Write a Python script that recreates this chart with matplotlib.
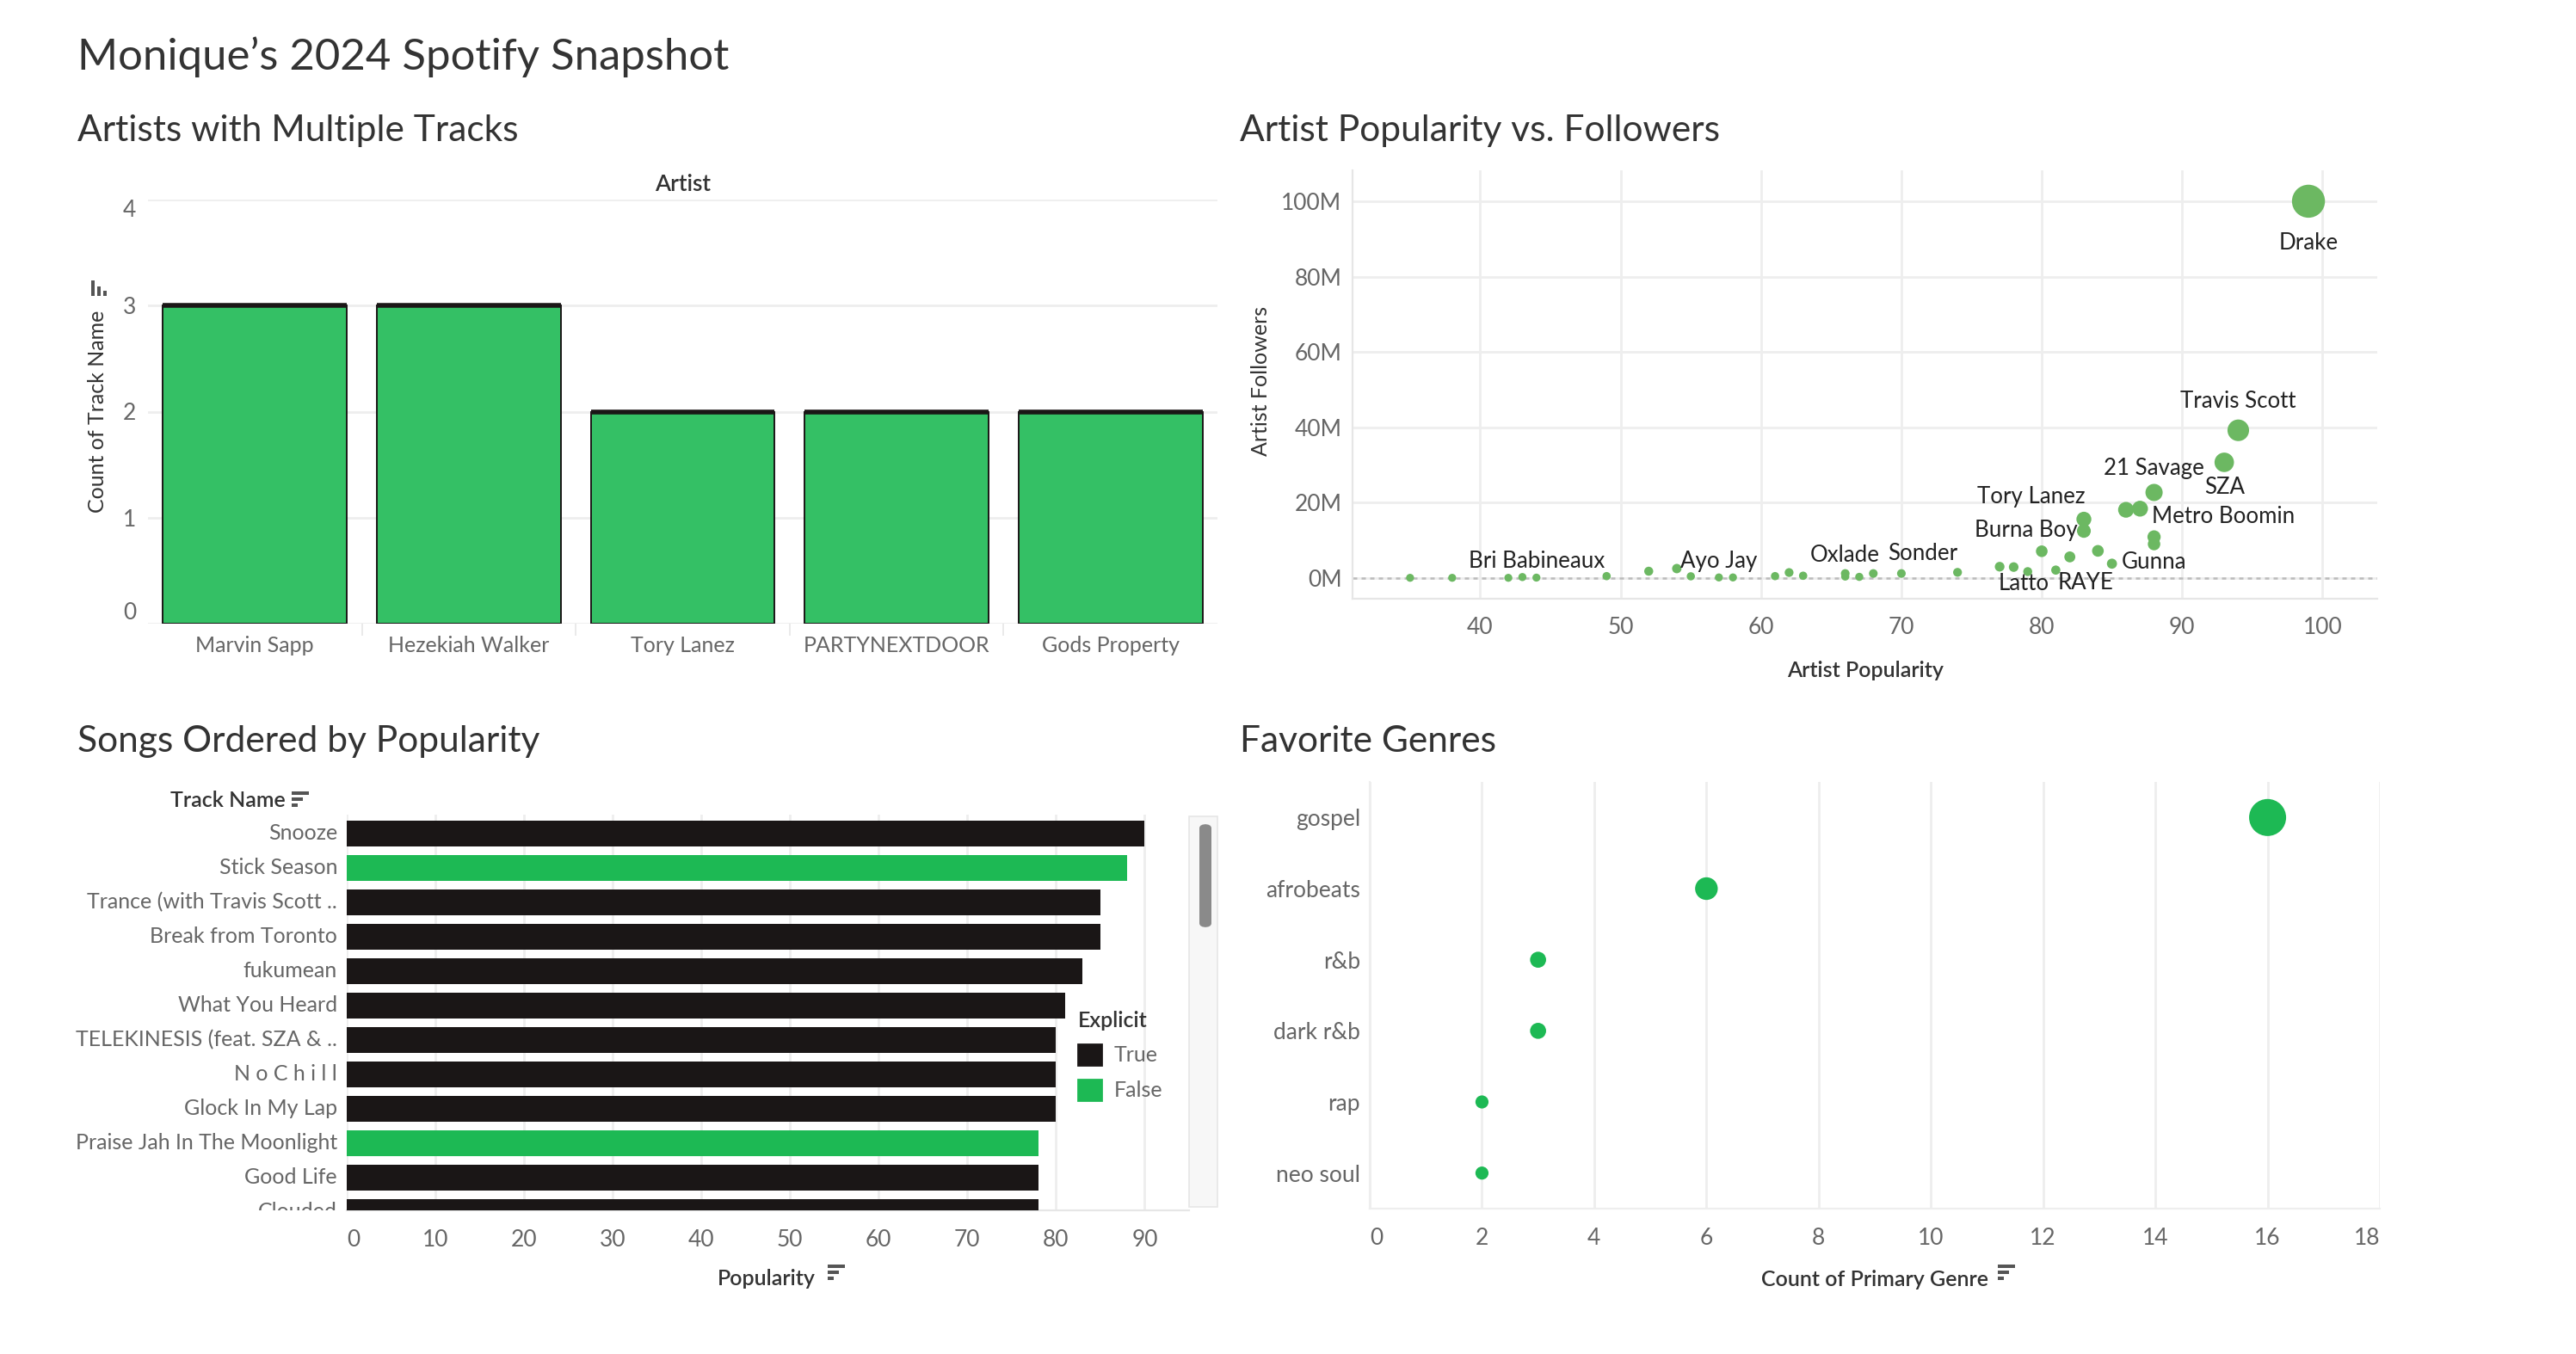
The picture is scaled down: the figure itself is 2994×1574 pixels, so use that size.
import matplotlib.pyplot as plt
import matplotlib.patches as mpatches
from matplotlib.ticker import FuncFormatter
from matplotlib.transforms import Bbox, TransformedBbox, blended_transform_factory

plt.rcParams['font.family'] = ['Lato', 'DejaVu Sans']

# artists with more than one track
multi_artists = ['Marvin Sapp', 'Hezekiah Walker', 'Tory Lanez', 'PARTYNEXTDOOR', 'Gods Property']
multi_counts = [3, 3, 2, 2, 2]

# artist popularity vs followers (followers in millions)
artist_pop = [35, 38, 42, 43, 44, 49, 52, 54, 55, 57, 58, 61, 62, 63, 66, 66, 67, 68, 70,
              74, 77, 78, 79, 80, 81, 82, 83, 83, 84, 85, 86, 87, 88, 88, 88, 93, 94, 99]
artist_followers = [0.05, 0.05, 0.05, 0.25, 0.1, 0.5, 1.8, 2.5, 0.45, 0.15, 0.15, 0.5, 1.45, 0.6,
                    1.2, 0.4, 0.3, 1.2, 1.2, 1.5, 3.0, 2.9, 1.7, 7.1, 2.1, 5.6, 15.6, 12.5, 7.2,
                    3.8, 18.1, 18.4, 22.7, 10.9, 9.0, 30.7, 39.2, 100.0]
artist_names = ['', '', '', '', 'Bri Babineaux', '', '', 'Ayo Jay', '', '', '', '', '', '',
                'Oxlade', '', '', '', 'Sonder', '', '', '', 'Latto', '', 'RAYE', '', 'Tory Lanez',
                'Burna Boy', '', 'Gunna', '', '', '21 Savage', 'Metro Boomin', '', 'SZA',
                'Travis Scott', 'Drake']

# songs ordered by popularity
tracks = ['Snooze', 'Stick Season', 'Trance (with Travis Scott ..', 'Break from Toronto',
          'fukumean', 'What You Heard', 'TELEKINESIS (feat. SZA & ..', 'N o C h i l l',
          'Glock In My Lap', 'Praise Jah In The Moonlight', 'Good Life', 'Clouded']
track_pop = [90, 88, 85, 85, 83, 81, 80, 80, 80, 78, 78, 78]
track_explicit = [True, False, True, True, True, True, True, True, True, False, True, True]

# favorite genres
genres = ['gospel', 'afrobeats', 'r&b', 'dark r&b', 'rap', 'neo soul']
genre_counts = [16, 6, 3, 3, 2, 2]

# label offsets (points) for the scatter annotations
label_offsets = {'Drake': (0, -17.5), 'Travis Scott': (0, 12), 'SZA': (0, -10.5),
                 '21 Savage': (0, 10), 'Metro Boomin': (29, 8.6), 'Gunna': (17.5, 0.6),
                 'Tory Lanez': (-22, 9.4), 'Burna Boy': (-24, 0.4), 'Latto': (-1.5, -5),
                 'RAYE': (12.5, -5.5), 'Sonder': (9, 8.4), 'Oxlade': (0, 7.6),
                 'Ayo Jay': (17.4, 3.1), 'Bri Babineaux': (0, 6.9)}

W, H = 2994, 1574
GREEN_BAR = '#34C065'
SPOTIFY_GREEN = '#1DB954'
SCATTER_GREEN = '#6CB862'
BLACK = '#1a1616'
TICK = '#666666'
GRID = '#eeeeee'
TXT = '#333333'


def fx(px):
    return px / W


def fy(py):
    return 1 - py / H


def sort_icon(fig, x, y, vertical=False):
    # little tableau sort glyph, x/y = top-left corner in pixels
    if vertical:
        for i, h in enumerate([18, 11, 6]):
            fig.add_artist(mpatches.Rectangle((fx(x + i * 7), fy(y + 18)), 4 / W, h / H,
                                              transform=fig.transFigure, color='#555555', lw=0))
    else:
        for i, w in enumerate([20, 13, 7]):
            fig.add_artist(mpatches.Rectangle((fx(x), fy(y + i * 7 + 4)), w / W, 4 / H,
                                              transform=fig.transFigure, color='#555555', lw=0))


fig = plt.figure(figsize=(W / 200, H / 200), dpi=200)

fig.text(fx(90), fy(66), 'Monique’s 2024 Spotify Snapshot', fontsize=18.3, color=TXT, va='center')
fig.text(fx(90), fy(152), 'Artists with Multiple Tracks', fontsize=15.3, color=TXT, va='center')
fig.text(fx(1441), fy(152), 'Artist Popularity vs. Followers', fontsize=15.3, color=TXT, va='center')
fig.text(fx(90), fy(862), 'Songs Ordered by Popularity', fontsize=15.3, color=TXT, va='center')
fig.text(fx(1441), fy(862), 'Favorite Genres', fontsize=15.3, color=TXT, va='center')

# ---- top left: bar chart
ax1 = fig.add_axes([fx(172), fy(725), (1415 - 172) / W, (725 - 232) / H])
xs = list(range(len(multi_artists)))
ax1.bar(xs, multi_counts, width=0.86, color=GREEN_BAR, edgecolor=BLACK, linewidth=0.7, zorder=3)
ax1.hlines(multi_counts, [x - 0.43 for x in xs], [x + 0.43 for x in xs], color=BLACK, lw=2, zorder=4)
ax1.set_xlim(-0.5, 4.5)
ax1.set_ylim(0, 4)
ax1.set_xticks(xs)
ax1.set_xticklabels(multi_artists)
ax1.set_xticks([0.5, 1.5, 2.5, 3.5], minor=True)
ax1.tick_params(axis='x', which='major', length=0, pad=5, labelsize=9, labelcolor=TICK)
ax1.tick_params(axis='x', which='minor', length=5, color='#e6e6e6')
ax1.set_yticks([0, 1, 2, 3, 4])
ax1.tick_params(axis='y', length=0, pad=5, labelsize=9.5, labelcolor=TICK)
ylabs = ax1.get_yticklabels()
ylabs[0].set_va('bottom')
ylabs[-1].set_va('top')
ax1.grid(axis='y', color=GRID, lw=1)
ax1.set_axisbelow(True)
for s in ax1.spines.values():
    s.set_visible(False)
ax1.set_ylabel('Count of Track Name', fontsize=9, color=TXT)
ax1.yaxis.set_label_coords(-0.038, 0.50)
fig.text(fx(794), fy(214), 'Artist', fontsize=9.5, color=TXT, ha='center', va='center', fontweight='semibold')
sort_icon(fig, 106, 326, vertical=True)

# ---- top right: scatter
ax2 = fig.add_axes([fx(1572), fy(696), (2763 - 1572) / W, (696 - 198) / H])
sizes = [11 + 1.8 * f for f in artist_followers]
ax2.scatter(artist_pop, artist_followers, s=sizes, color=SCATTER_GREEN, linewidths=0, zorder=3)
ax2.axhline(0, color='#bbbbbb', lw=0.9, ls=(0, (2, 2)), zorder=2)
for p, f, name in zip(artist_pop, artist_followers, artist_names):
    if name:
        ax2.annotate(name, (p, f), xytext=label_offsets[name], textcoords='offset points',
                     ha='center', va='center', fontsize=9.3, color='#222222', zorder=5)
ax2.set_xlim(30.9, 103.9)
ax2.set_ylim(-5.5, 108.2)
ax2.set_xticks(range(40, 101, 10))
ax2.set_yticks(range(0, 101, 20))
ax2.yaxis.set_major_formatter(FuncFormatter(lambda v, _: f'{int(v)}M'))
ax2.tick_params(length=0, labelsize=9.5, labelcolor=TICK)
ax2.tick_params(axis='y', pad=4.5)
ax2.tick_params(axis='x', pad=7.5)
ax2.grid(color=GRID, lw=1)
ax2.set_axisbelow(True)
for k, s in ax2.spines.items():
    s.set_visible(k in ('left', 'bottom'))
    s.set_color('#e6e6e6')
ax2.set_xlabel('Artist Popularity', fontsize=9, color=TXT, fontweight='semibold')
ax2.set_ylabel('Artist Followers', fontsize=9, color=TXT)
ax2.xaxis.set_label_coords(0.5, -0.144)
ax2.yaxis.set_label_coords(-0.080, 0.508)

# ---- bottom left: horizontal bars
ax3 = fig.add_axes([fx(403), fy(1407), (1382 - 403) / W, (1407 - 947) / H])
rows = list(range(len(tracks)))
colors = [BLACK if e else SPOTIFY_GREEN for e in track_explicit]
ax3.barh(rows, track_pop, height=0.755, color=colors, zorder=3)
ax3.set_ylim(10.95, -0.55)
ax3.set_xlim(0, 95)
ax3.set_xticks(range(0, 91, 10))
ax3.set_yticks([])
ax3.tick_params(axis='x', length=0, pad=8, labelsize=9.5, labelcolor=TICK)
ax3.get_xticklabels()[0].set_ha('left')
ax3.grid(axis='x', color=GRID, lw=1)
ax3.set_axisbelow(True)
for k, s in ax3.spines.items():
    s.set_visible(k == 'bottom')
    s.set_color('#e6e6e6')
trans = blended_transform_factory(ax3.transAxes, ax3.transData)
clip = TransformedBbox(Bbox.from_extents(-1, 0, 1, 1), ax3.transAxes)
for r, name in zip(rows, tracks):
    t = ax3.text(-0.0112, r, name, transform=trans, ha='right', va='center',
                 fontsize=9, color=TICK, clip_on=True)
    t.set_clip_box(clip)
ax3.set_xlabel('Popularity', fontsize=9, color=TXT, fontweight='semibold')
ax3.xaxis.set_label_coords(0.498, -0.148)
fig.text(fx(265), fy(930), 'Track Name', fontsize=9, color=TXT, ha='center', va='center', fontweight='semibold')
sort_icon(fig, 339, 920)
sort_icon(fig, 962, 1470)

handles = [mpatches.Patch(color=BLACK, label='True'), mpatches.Patch(color=SPOTIFY_GREEN, label='False')]
leg = ax3.legend(handles=handles, title='Explicit', loc='upper left', bbox_to_anchor=(fx(1240), fy(1162)),
                 bbox_transform=fig.transFigure, frameon=False, fontsize=9, title_fontsize=9,
                 handlelength=1.1, handleheight=1.1, handletextpad=0.6, labelspacing=0.65,
                 alignment='left', borderpad=0)
for t in leg.get_texts():
    t.set_color(TICK)
leg.get_title().set_color(TXT)
leg.get_title().set_fontweight('semibold')

# scroll strip
fig.add_artist(mpatches.Rectangle((fx(1382), fy(1403)), 33 / W, (1403 - 949) / H,
                                  transform=fig.transFigure, facecolor='#f7f7f7', edgecolor='#e6e6e6', lw=0.6))
fig.add_artist(mpatches.FancyBboxPatch((fx(1394), fy(1078)), 14 / W, (1078 - 958) / H,
                                       boxstyle='round,pad=0.0,rounding_size=0.003',
                                       transform=fig.transFigure, facecolor='#8a8a8a', lw=0))

# ---- bottom right: genre dots
ax4 = fig.add_axes([fx(1592), fy(1405), (2766 - 1592) / W, (1405 - 909) / H])
grow = list(range(len(genres)))
ax4.scatter(genre_counts, grow, s=[15 * c for c in genre_counts], color=SPOTIFY_GREEN, linewidths=0, zorder=3)
ax4.set_ylim(5.5, -0.5)
ax4.set_xlim(0, 18)
ax4.set_xticks(range(0, 19, 2))
ax4.set_yticks(grow)
ax4.set_yticklabels(genres)
ax4.tick_params(length=0, labelsize=9.5, labelcolor=TICK)
ax4.tick_params(axis='y', pad=4)
ax4.tick_params(axis='x', pad=8)
xl = ax4.get_xticklabels()
xl[0].set_ha('left')
xl[-1].set_ha('right')
ax4.grid(axis='x', color=GRID, lw=1)
ax4.set_axisbelow(True)
for k, s in ax4.spines.items():
    s.set_visible(k in ('left', 'bottom'))
    s.set_color('#eeeeee')
ax4.set_xlabel('Count of Primary Genre', fontsize=9, color=TXT, fontweight='semibold')
ax4.xaxis.set_label_coords(0.5, -0.144)
sort_icon(fig, 2322, 1470)

fig.savefig('out.png', dpi=200, facecolor='white')
